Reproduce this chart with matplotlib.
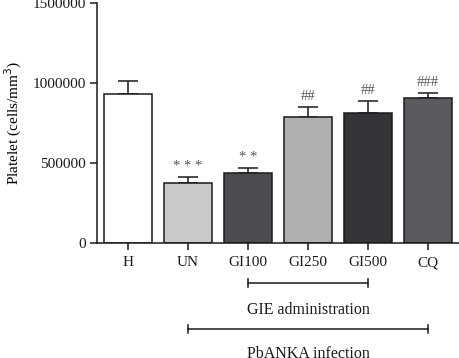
import matplotlib.pyplot as plt
import matplotlib.transforms as mtransforms

groups = ['H', 'UN', 'GI100', 'GI250', 'GI500', 'CQ']
platelet = [933000, 373000, 437000, 789000, 814000, 908000]
sem = [81000, 41000, 33000, 63000, 75000, 31000]
marks = ['', '* * *', '* *', '##', '##', '###']
bar_colors = ['#ffffff', '#c8c9cb', '#4b4c4f', '#aeafb1', '#333438', '#5b5b5f']

plt.rcParams['font.family'] = ['Liberation Serif', 'DejaVu Serif']

fig = plt.figure(figsize=(4.59, 3.58), dpi=100)
ax = fig.add_axes([97 / 459, 1 - 243 / 358, 1 - 97 / 459, 240 / 358])

x = list(range(len(groups)))
ax.bar(x, platelet, width=0.8, color=bar_colors, edgecolor='#1a1a1a', linewidth=1.1, zorder=2)
ax.errorbar(x, platelet, yerr=[[0] * len(sem), sem], fmt='none', ecolor='#1a1a1a',
            elinewidth=1.1, capsize=7, capthick=1.1, zorder=1)

for xi, v, s, m in zip(x, platelet, sem, marks):
    if m:
        ax.text(xi, v + s + 22000, m, ha='center', va='bottom', fontsize=10.5, color='#555555')

ax.set_xlim(-0.52, 5.52)
ax.set_ylim(0, 1500000)
ax.set_yticks([0, 500000, 1000000, 1500000])
ax.set_yticklabels(['0', '500000', '1000000', '1500000'])
ax.set_xticks(x)
ax.set_xticklabels(groups)
ax.tick_params(labelsize=11, length=5, width=1.1, direction='out', colors='#1a1a1a', pad=3)
ax.tick_params(axis='x', pad=4.5)
ax.set_ylabel('Platelet (cells/mm$^3$)', fontsize=11, labelpad=6)

for side in ['top', 'right']:
    ax.spines[side].set_visible(False)
for side in ['left', 'bottom']:
    ax.spines[side].set_linewidth(1.1)
    ax.spines[side].set_color('#1a1a1a')

# brackets under the axis
trans = mtransforms.blended_transform_factory(ax.transData, fig.transFigure)
brackets = [(2, 4, 1 - 283 / 358, 'GIE administration', 1 - 310 / 358),
            (1, 5, 1 - 329 / 358, 'PbANKA infection', 1 - 354 / 358)]
for x0, x1, yb, label, yl in brackets:
    ax.plot([x0, x1], [yb, yb], color='#1a1a1a', lw=1.1, transform=trans, clip_on=False)
    for xe in (x0, x1):
        ax.plot([xe, xe], [yb - 0.012, yb + 0.012], color='#1a1a1a', lw=1.1,
                transform=trans, clip_on=False)
    ax.text((x0 + x1) / 2, yl, label, ha='center', va='center', fontsize=11.5,
            transform=trans, color='#1a1a1a')

fig.savefig('out.png', dpi=100)
